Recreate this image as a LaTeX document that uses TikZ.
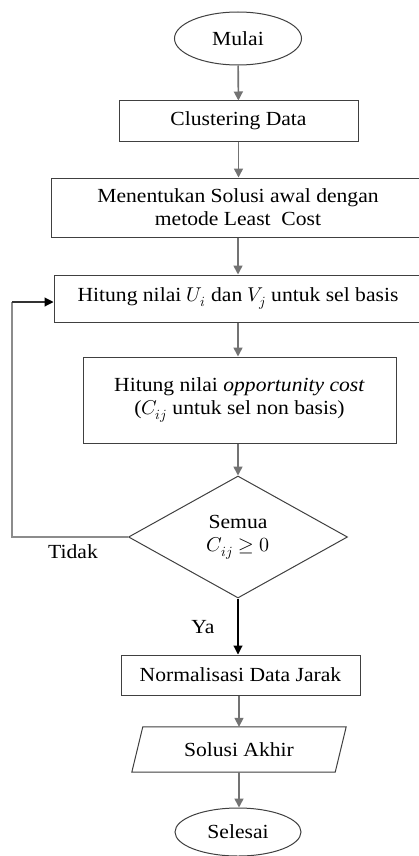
\documentclass[tikz,border=0pt]{standalone}
\usepackage{fontspec}
\usepackage{unicode-math}
\setmainfont{Liberation Serif}[FakeStretch=1.08]
\usetikzlibrary{shapes.geometric,arrows.meta,calc}
\begin{document}
\begin{tikzpicture}[x=1pt,y=-1pt,
  every node/.style={font=\fontsize{20}{23}\selectfont},
  box/.style={draw=black!75,line width=1pt,rectangle,inner sep=0pt,align=center},
  term/.style={draw=black!75,line width=1pt,ellipse,inner sep=0pt},
  dec/.style={draw=black!75,line width=1pt,diamond,inner sep=0pt,align=center},
  garrow/.style={draw=black!55,line width=1.6pt,-{Triangle[length=9pt,width=9pt]}},
  barrow/.style={draw=black,line width=1.1pt,-{Triangle[length=9pt,width=9pt]}},
  lbl/.style={inner sep=0pt}]
\useasboundingbox (0,0) rectangle (419,856);
\fill[white] (0,0) rectangle (419,856);
\begin{scope}
\clip (0,0) rectangle (419,856);
\node[term,minimum width=127pt,minimum height=53pt] (mulai) at (238,38.5) {Mulai};
\node[box,minimum width=239pt,minimum height=40pt] (clus) at (238.5,121) {Clustering Data};
\node[box,minimum width=374pt,minimum height=59pt] (ment) at (238,207.5) {Menentukan Solusi awal dengan\\metode Least\ \ Cost};
\node[box,minimum width=368pt,minimum height=47pt] (hit) at (238,298.5) {Hitung nilai $U_i$ dan $V_j$ untuk sel basis};
\node[box,minimum width=313pt,minimum height=86pt] (opp) at (239.5,400) {Hitung nilai \textit{opportunity cost}\\($C_{ij}$ untuk sel non basis)};
\node[dec,minimum width=219pt,minimum height=122pt] (dia) at (238,537) {Semua\\$C_{ij}\geq 0$};
\node[box,minimum width=239pt,minimum height=40pt] (norm) at (240.5,675) {Normalisasi Data Jarak};
\node[inner sep=0pt,minimum width=203pt,minimum height=45pt] (sol) at (239,749.5) {Solusi Akhir};
\draw[draw=black!75,line width=1pt] ([xshift=-5.5pt]sol.south west) -- ([xshift=-5.5pt]sol.south east) -- ([xshift=5.5pt]sol.north east) -- ([xshift=5.5pt]sol.north west) -- cycle;
\node[term,minimum width=126pt,minimum height=48pt] (sel) at (238,832) {Selesai};
\end{scope}
\coordinate (fbL) at (12,537);
\coordinate (fbT) at (12,302);
\draw[garrow] (mulai) -- (clus);
\draw[garrow] (clus) -- (clus.south |- ment.north);
\draw[garrow] (ment.south) -- (hit.north);
\draw[garrow] (hit.south) -- (hit.south |- opp.north);
\draw[garrow] (opp.south -| dia.north) -- (dia.north);
\draw[barrow] (dia.south) -- (dia.south |- norm.north);
\draw[garrow] (norm.south -| sol.north) -- (sol.north);
\draw[garrow] (sol.south) -- (sol.south |- sel.north);
\draw[draw=black!45,line width=1.1pt] (dia.west) -- (fbL) -- (fbT);
\draw[draw=black!80,line width=1.1pt,-{Triangle[length=9pt,width=9pt,color=black]}] (fbT) -- (fbT -| hit.west);
\node[lbl] (tidak) at (73,552) {Tidak};
\node[lbl] (ya) at (203,627) {Ya};
\end{tikzpicture}
\end{document}
